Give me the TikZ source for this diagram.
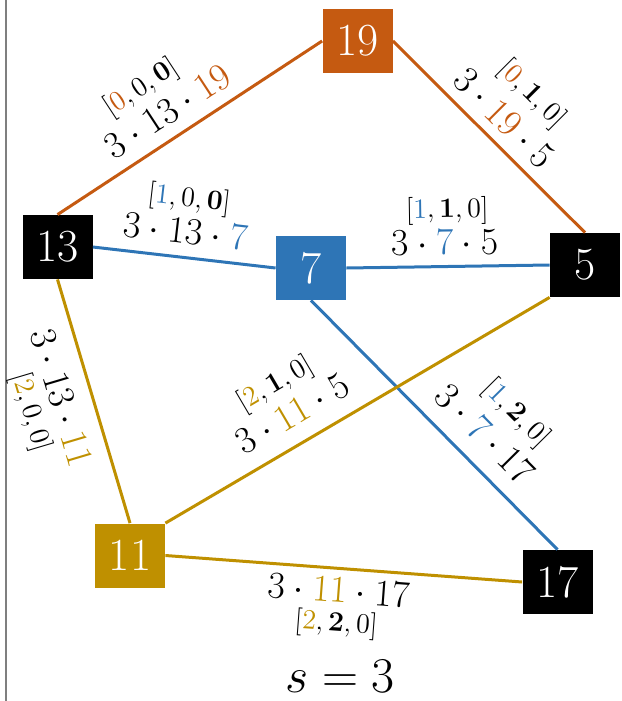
\RequirePackage{fix-cm}
\documentclass[tikz,border=0pt]{standalone}
\usepackage{amsmath}

\definecolor{orng}{HTML}{C55A11}
\definecolor{blu}{HTML}{2E75B6}
\definecolor{gld}{HTML}{BF9000}
\definecolor{framegray}{HTML}{7F7F7F}

\begin{document}
\begin{tikzpicture}[
    x=0.5pt, y=-0.5pt,
    prime/.style={rectangle, minimum width=35pt, minimum height=32pt, inner sep=0pt, text=white, font=\fontsize{23}{26}\selectfont},
    link/.style={line width=1.5pt},
    prod/.style={sloped, inner sep=0pt, text=black, font=\fontsize{19}{21}\selectfont},
    vec/.style={sloped, inner sep=0pt, text=black, font=\fontsize{14}{16}\selectfont}
]

\useasboundingbox (0,0) rectangle (621,701);

% --- Frame line on the left ---
\draw[framegray, line width=1pt] (6,0) -- (6,701);

% --- Prime nodes ---
\node[prime, fill=orng] (p19) at (357.5,41) {19};
\node[prime, fill=black] (p13) at (57.5,247) {13};
\node[prime, fill=blu] (p7) at (311,268) {7};
\node[prime, fill=black] (p5) at (585,265) {5};
\node[prime, fill=gld] (p11) at (130,555.5) {11};
\node[prime, fill=black] (p17) at (557.5,582) {17};

% --- Orange edges ---
\draw[link, orng] (p13.north) --
    node[vec, pos=.44, yshift=30pt] {$[\textcolor{orng}{0},0,\mathbf{0}]$}
    node[prod, pos=.47, yshift=13pt] {$3\cdot 13\cdot \textcolor{orng}{19}$} (p19.west);
\draw[link, orng] (p19.east) --
    node[vec, pos=.5, yshift=30pt] {$[\textcolor{orng}{0},\mathbf{1},0]$}
    node[prod, pos=.49, yshift=12pt] {$3\cdot \textcolor{orng}{19}\cdot 5$} (p5.north);

% --- Blue edges ---
\draw[link, blu] (p13.east) --
    node[vec, pos=.49, yshift=29pt] {$[\textcolor{blu}{1},0,\mathbf{0}]$}
    node[prod, pos=.49, yshift=13pt] {$3\cdot 13\cdot \textcolor{blu}{7}$} (p7.west);
\draw[link, blu] (p7.east) --
    node[vec, pos=.5, yshift=28pt] {$[\textcolor{blu}{1},\mathbf{1},0]$}
    node[prod, pos=.485, yshift=12pt] {$3\cdot \textcolor{blu}{7}\cdot 5$} (p5.west);
\draw[link, blu] (p7.south) --
    node[vec, pos=.64, yshift=33pt] {$[\textcolor{blu}{1},\mathbf{2},0]$}
    node[prod, pos=.62, yshift=15pt] {$3\cdot \textcolor{blu}{7}\cdot 17$} (p17.north);

% --- Gold edges ---
\draw[link, gld] (p13.south) --
    node[prod, pos=.45, yshift=-15pt] {$3\cdot 13\cdot \textcolor{gld}{11}$}
    node[vec, pos=.47, yshift=-32pt] {$[\textcolor{gld}{2},0,0]$} (p11.north);
\draw[link, gld] (p11.north east) --
    node[vec, pos=.37, yshift=32pt] {$[\textcolor{gld}{2},\mathbf{1},0]$}
    node[prod, pos=.37, yshift=15pt] {$3\cdot \textcolor{gld}{11}\cdot 5$} (p5.south west);
\draw[link, gld] (p11.east) --
    node[prod, pos=.49, yshift=-11pt] {$3\cdot \textcolor{gld}{11}\cdot 17$}
    node[vec, pos=.49, yshift=-28pt] {$[\textcolor{gld}{2},\mathbf{2},0]$} (p17.west);

% --- Parameter ---
\node[font=\fontsize{25}{28}\selectfont] (slab) at (340,676) {$s = 3$};

\end{tikzpicture}
\end{document}
